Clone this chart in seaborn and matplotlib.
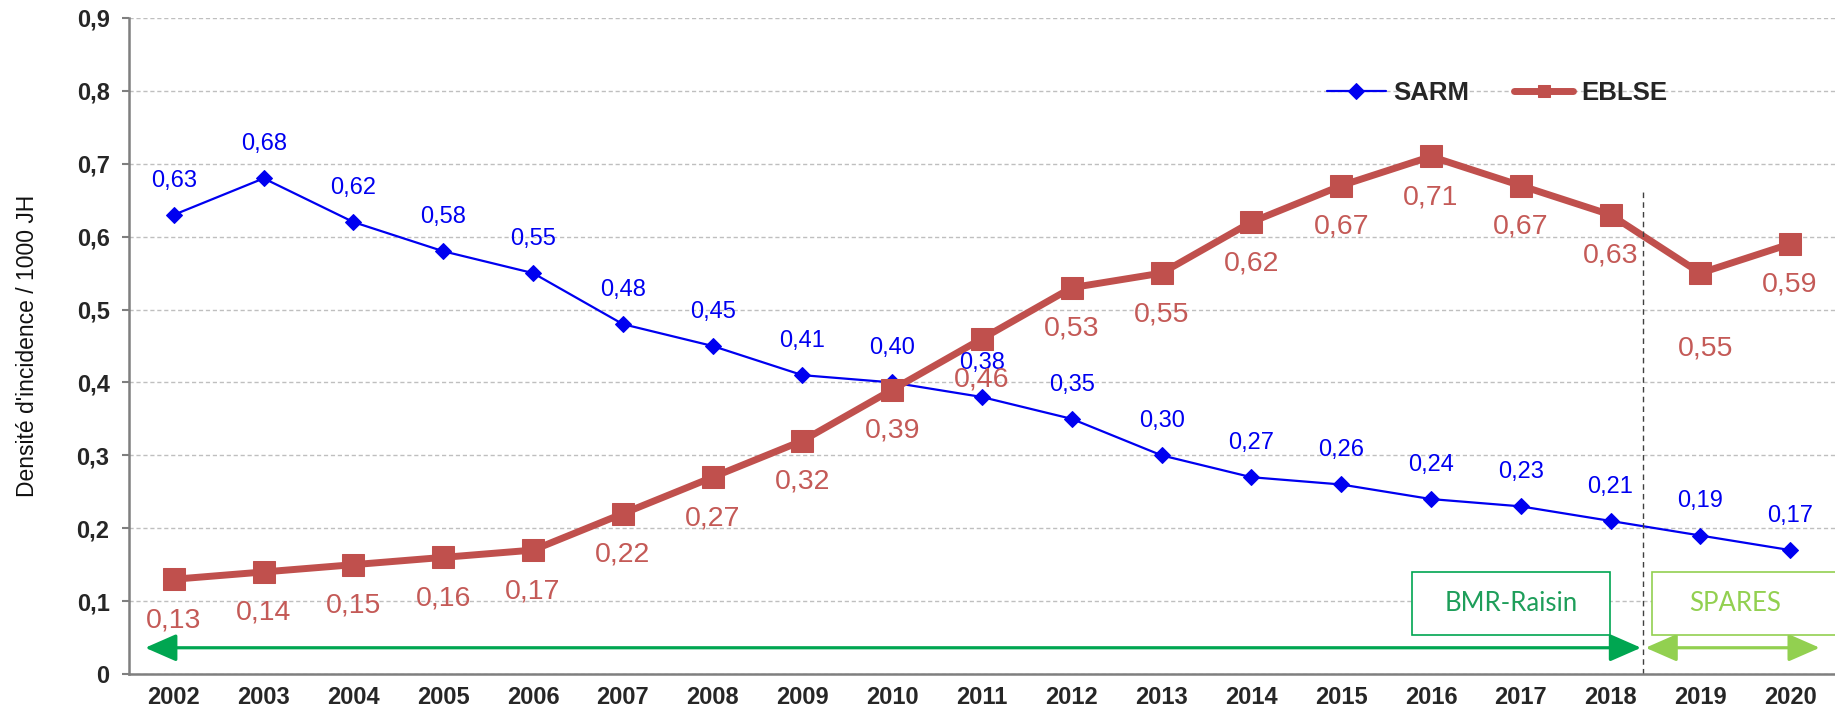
import matplotlib
matplotlib.use("Agg")
import matplotlib.pyplot as plt
import seaborn as sns
import pandas as pd
from matplotlib.patches import Rectangle

years = ["2002", "2003", "2004", "2005", "2006", "2007", "2008", "2009", "2010",
         "2011", "2012", "2013", "2014", "2015", "2016", "2017", "2018", "2019", "2020"]
sarm = [0.63, 0.68, 0.62, 0.58, 0.55, 0.48, 0.45, 0.41, 0.40, 0.38,
        0.35, 0.30, 0.27, 0.26, 0.24, 0.23, 0.21, 0.19, 0.17]
eblse = [0.13, 0.14, 0.15, 0.16, 0.17, 0.22, 0.27, 0.32, 0.39, 0.46,
         0.53, 0.55, 0.62, 0.67, 0.71, 0.67, 0.63, 0.55, 0.59]
y_ticks = [0, 0.1, 0.2, 0.3, 0.4, 0.5, 0.6, 0.7, 0.8, 0.9]

sns.set_theme(style="white")
plt.rcParams["font.family"] = ["Liberation Sans", "DejaVu Sans"]

BLUE = "#0000F0"
RED = "#C0504D"
RED_TXT = "#C45A57"
GREEN = "#00A651"
LGREEN = "#92D050"
AXIS_GRAY = "#7F7F7F"

df = pd.DataFrame({"x": range(len(years)), "SARM": sarm, "EBLSE": eblse})

fig = plt.figure(figsize=(18.35, 7.17), dpi=100)
ax = fig.add_axes([129 / 1835, 1 - 674 / 717, 1 - 129 / 1835, (674 - 18) / 717])

sns.lineplot(data=df, x="x", y="SARM", ax=ax, color=BLUE, lw=1.6,
             marker="D", markersize=8.5, markeredgecolor=BLUE, label="SARM")
sns.lineplot(data=df, x="x", y="EBLSE", ax=ax, color=RED, lw=5,
             marker="s", markersize=15.5, markeredgecolor=RED, label="EBLSE")

ax.set_xlim(-0.5, 18.33)
ax.set_ylim(0, 0.9)

# gridlines
ax.set_yticks(y_ticks)
ax.set_yticklabels([("%g" % v).replace(".", ",") for v in y_ticks],
                   fontsize=17, fontweight="bold")
ax.yaxis.grid(True, color="#BFBFBF", linestyle=(0, (3, 2)), lw=1)
ax.set_axisbelow(True)

# category labels centred, ticks on boundaries
ax.set_xticks(range(len(years)))
ax.set_xticklabels(years, fontsize=17, fontweight="bold")
ax.set_xticks([i + 0.5 for i in range(len(years))], minor=True)
ax.tick_params(axis="x", which="major", length=0, pad=9)
ax.tick_params(axis="x", which="minor", length=6, width=1.5, color=AXIS_GRAY, direction="in")
ax.tick_params(axis="y", which="major", length=5, width=1.5, color=AXIS_GRAY,
               direction="out", left=True, pad=9)

for side in ["top", "right"]:
    ax.spines[side].set_visible(False)
for side in ["left", "bottom"]:
    ax.spines[side].set_color(AXIS_GRAY)
    ax.spines[side].set_linewidth(1.8)

ax.set_xlabel("")
ax.set_ylabel("Densité d'incidence / 1000 JH", fontsize=16.5, color="#111111")
ax.yaxis.set_label_coords(-0.053, 0.5)

# value labels
for i, v in enumerate(sarm):
    ax.annotate(("%.2f" % v).replace(".", ","), (i, v), xytext=(0, 24.5),
                textcoords="offset points", ha="center", va="center",
                fontsize=17, color=BLUE)
for i, v in enumerate(eblse):
    dy = -29.5
    dx = 0
    if years[i] == "2019":
        dy, dx = -54, 4
    ax.annotate(("%.2f" % v).replace(".", ","), (i, v), xytext=(dx, dy),
                textcoords="offset points", ha="center", va="center",
                fontsize=20.5, color=RED_TXT)

# period separator
sep_x = 16.36
ax.vlines(sep_x, 0, 0.661, colors="#404040", linestyles=(0, (4, 3)), lw=1)

# surveillance periods
arrow_y = 0.036
ax.annotate("", xy=(-0.32, arrow_y), xytext=(sep_x - 0.02, arrow_y),
            arrowprops=dict(arrowstyle="<|-|>,head_length=1.6,head_width=0.7",
                            color=GREEN, lw=2.3, shrinkA=0, shrinkB=0))
ax.annotate("", xy=(sep_x + 0.03, arrow_y), xytext=(18.33, arrow_y),
            arrowprops=dict(arrowstyle="<|-|>,head_length=1.6,head_width=0.7",
                            color=LGREEN, lw=2.3, shrinkA=0, shrinkB=0),
            annotation_clip=False)

ax.add_patch(Rectangle((13.79, 0.0535), 2.2, 0.0865, fill=True, facecolor="white",
                       edgecolor=GREEN, lw=1.2, zorder=3))
ax.text(14.89, 0.097, "BMR-Raisin", ha="center", va="center", fontsize=18.5,
        color="#1E9E5A", family=["Lato", "DejaVu Sans"], zorder=4)
ax.add_patch(Rectangle((16.46, 0.0535), 2.2, 0.0865, fill=True, facecolor="white",
                       edgecolor=LGREEN, lw=1.2, zorder=3, clip_on=True))
ax.text(17.39, 0.097, "SPARES", ha="center", va="center", fontsize=18.5,
        color=LGREEN, family=["Lato", "DejaVu Sans"], zorder=4)

leg = ax.legend(loc="center left", bbox_to_anchor=(0.702, 0.886), ncol=2,
                frameon=False, handlelength=2.3, columnspacing=1.75,
                handletextpad=0.3, borderpad=0, borderaxespad=0,
                prop={"weight": "bold", "size": 18.5})
leg.legend_handles[1].set_markersize(9)

fig.savefig("out.png", dpi=100)
